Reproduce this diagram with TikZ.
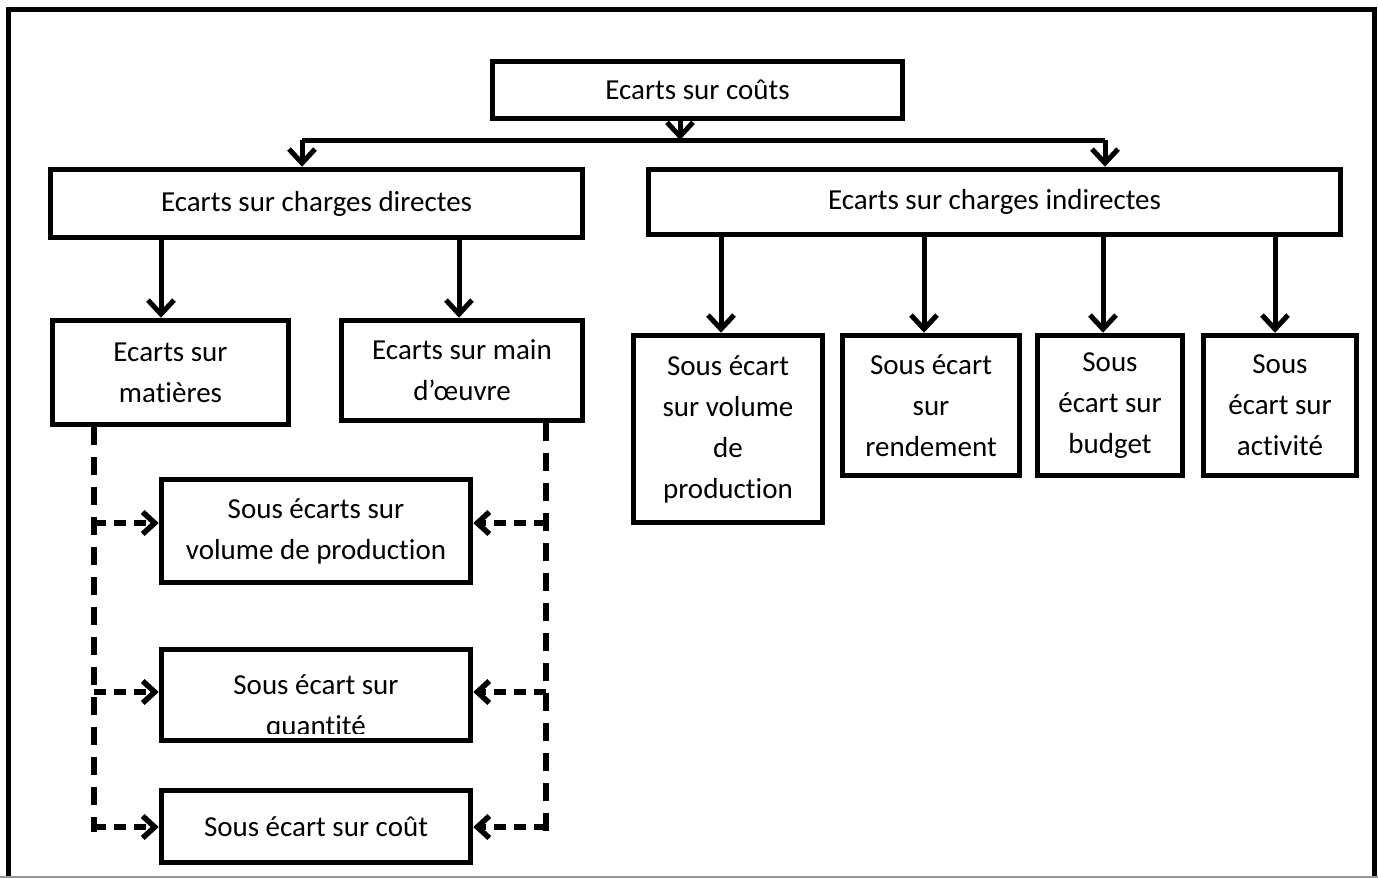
\documentclass[tikz,border=0pt]{standalone}
\usepackage{fontspec}
\setmainfont{Carlito}[Ligatures=NoCommon]
\usetikzlibrary{arrows.meta}

\begin{document}
\begin{tikzpicture}[x=1pt,y=-1pt,
  lbl/.style={align=center, inner sep=0pt, font=\fontsize{29}{41}\selectfont},
  box/.style={lbl, draw, line width=5.5pt},
  link/.style={line width=5pt},
  arr/.style={link, -{Straight Barb[length=14pt,width=26pt]}},
  dline/.style={line width=5.5pt, dash pattern=on 18pt off 12pt},
  darr/.style={line width=5.5pt, dash pattern=on 12pt off 8pt, -{Straight Barb[length=12pt,width=22pt]}},
]
\useasboundingbox (0,0) rectangle (1378,878);

% page frame, open at the bottom
\draw[line width=5.5pt] (8.5,878) -- (8.5,9.5) -- (1374.5,9.5) -- (1374.5,878);
\draw[black!40, line width=1.5pt] (0,877) -- (1378,877);

% boxes
\node[box, minimum width=410pt, minimum height=57pt] (top) at (697.5,90) {Ecarts sur coûts};
\node[box, minimum width=532pt, minimum height=68pt] (direct) at (316.5,203.5) {Ecarts sur charges directes};
\node[box, minimum width=692pt, minimum height=65pt] (indirect) at (994.5,202) {Ecarts sur charges indirectes};

\node[box, minimum width=236pt, minimum height=104pt] (mat) at (170.5,372.5) {Ecarts sur\\matières};
\node[box, minimum width=241pt, minimum height=100pt] (mo) at (462,370.5) {Ecarts sur main\\d’œuvre};

\node[box, minimum width=309pt, minimum height=103pt] (vol) at (316,531) {Sous écarts sur\\volume de production};
\begin{scope}
  \clip (161,649) rectangle (471,733);
  \node[lbl] (qtetext) at (316,707.5) {Sous écart sur\\quantité};
\end{scope}
\node[box, minimum width=309pt, minimum height=91pt] (qte) at (316,695) {};
\node[box, minimum width=309pt, minimum height=72pt] (cout) at (316,826.5) {Sous écart sur coût};

\node[box, minimum width=189pt, minimum height=187pt] (r1) at (728,429) {Sous écart\\sur volume\\de\\production};
\node[box, minimum width=177pt, minimum height=140pt] (r2) at (931,405.5) {Sous écart\\sur\\rendement};
\node[box, minimum width=145pt, minimum height=140pt] (r3) at (1110,405.5) {Sous\\écart sur\\budget};
\node[box, minimum width=153pt, minimum height=140pt] (r4) at (1280,405.5) {Sous\\écart sur\\activité};

% top level split
\coordinate (jM) at (680,140);
\coordinate (jL) at (302,140);
\coordinate (jR) at (1105,140);
\draw[link] (jL) -- (jR);
\draw[arr] (top.south -| jM) -- (jM);
\draw[arr] (jL) -- (jL |- direct.north);
\draw[arr] (jR) -- (jR |- indirect.north);

% direct costs
\coordinate (a1) at (161,0);
\coordinate (a2) at (459,0);
\draw[arr] (direct.south -| a1) -- (mat.north -| a1);
\draw[arr] (direct.south -| a2) -- (mo.north -| a2);

% indirect costs
\coordinate (b1) at (721,0);
\coordinate (b2) at (924,0);
\coordinate (b3) at (1103,0);
\coordinate (b4) at (1275,0);
\draw[arr] (indirect.south -| b1) -- (r1.north -| b1);
\draw[arr] (indirect.south -| b2) -- (r2.north -| b2);
\draw[arr] (indirect.south -| b3) -- (r3.north -| b3);
\draw[arr] (indirect.south -| b4) -- (r4.north -| b4);

% dashed feeds to the sub-variances
\coordinate (vL) at (94,0);
\coordinate (vR) at (546,0);
\coordinate (endL) at (94,832);
\coordinate (endR) at (546,835);
\coordinate (rowV) at (0,523);
\coordinate (rowQ) at (0,692);
\coordinate (rowC) at (0,827);
\draw[dline] (mat.south -| vL) -- (endL);
\draw[dline] (mo.south -| vR) -- (endR);
\draw[darr] (vL |- rowV) -- (vol.west |- rowV);
\draw[darr] (vL |- rowQ) -- (qte.west |- rowQ);
\draw[darr] (vL |- rowC) -- (cout.west |- rowC);
\draw[darr] (vR |- rowV) -- (vol.east |- rowV);
\draw[darr] (vR |- rowQ) -- (qte.east |- rowQ);
\draw[darr] (vR |- rowC) -- (cout.east |- rowC);
\end{tikzpicture}
\end{document}
